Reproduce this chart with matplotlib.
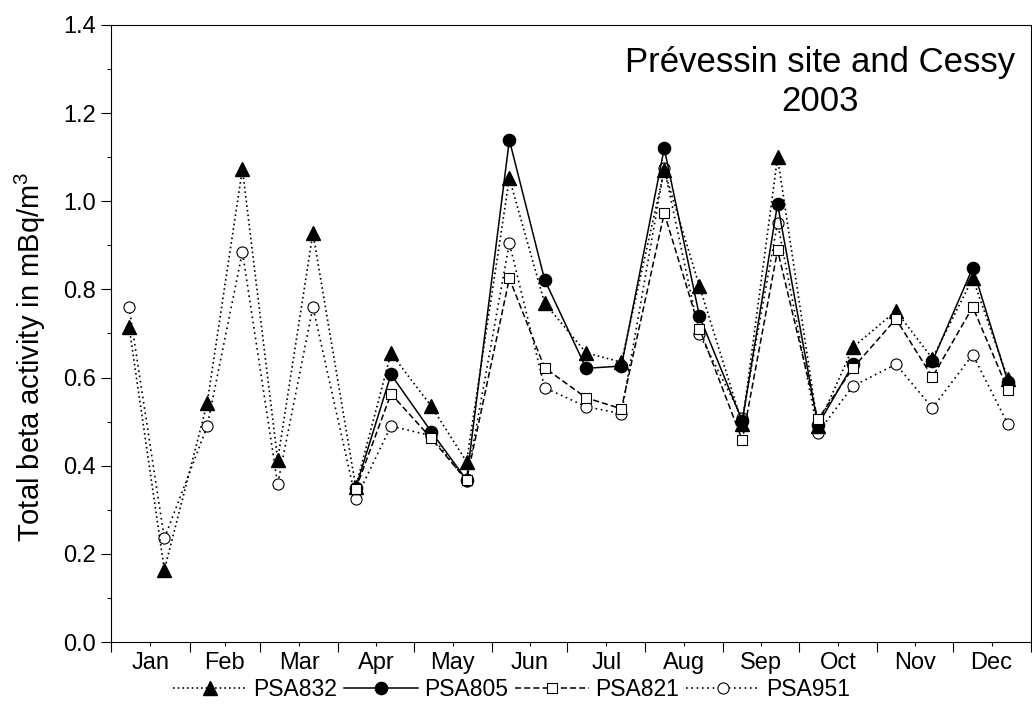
import numpy as np
import matplotlib
matplotlib.use("Agg")
import matplotlib.pyplot as plt

plt.rcParams['font.family'] = ['Liberation Sans', 'DejaVu Sans']
plt.rcParams['mathtext.fontset'] = 'custom'
plt.rcParams['mathtext.rm'] = 'Liberation Sans'
plt.rcParams['mathtext.it'] = 'Liberation Sans:italic'

nan = np.nan

# sampling dates, day of year (two filters per month)
days = [7, 21, 38, 52, 66, 80, 97, 111, 127, 141, 158, 172,
        188.5, 202.5, 219.5, 233.5, 250.5, 264.5, 280.5, 294.5, 311.5, 326, 342, 356]

psa832 = [0.715, 0.164, 0.542, 1.073, 0.413, 0.928, 0.352, 0.655, 0.535, 0.409, 1.052, 0.769,
          0.656, 0.635, 1.070, 0.807, 0.495, 1.100, 0.490, 0.669, 0.751, 0.643, 0.825, 0.597]
psa805 = [nan, nan, nan, nan, nan, nan, 0.350, 0.607, 0.477, 0.368, 1.139, 0.822,
          0.621, 0.626, 1.120, 0.739, 0.501, 0.994, 0.492, 0.630, nan, 0.637, 0.849, 0.590]
psa821 = [nan, nan, nan, nan, nan, nan, 0.347, 0.563, 0.462, 0.367, 0.825, 0.622,
          0.554, 0.529, 0.973, 0.711, 0.458, 0.889, 0.505, 0.622, 0.733, 0.601, 0.760, 0.572]
psa951 = [0.760, 0.235, 0.489, 0.885, 0.358, 0.760, 0.324, 0.490, 0.468, 0.365, 0.905, 0.577,
          0.534, 0.518, 1.075, 0.698, 0.508, 0.951, 0.475, 0.581, 0.630, 0.531, 0.652, 0.494]

months = ['Jan', 'Feb', 'Mar', 'Apr', 'May', 'Jun', 'Jul', 'Aug', 'Sep', 'Oct', 'Nov', 'Dec']
month_len = [31, 28, 31, 30, 31, 30, 31, 31, 30, 31, 30, 31]

bounds = np.concatenate([[0], np.cumsum(month_len)])
mids = (bounds[:-1] + bounds[1:]) / 2.0

fig = plt.figure(figsize=(10.32, 7.11), dpi=100)
ax = fig.add_axes([0.108, 0.097, 0.8907, 0.868])

ax.plot(days, psa951, color='black', linestyle=(0, (1, 2.2)), linewidth=1.2,
        marker='o', markersize=8, markerfacecolor='white', markeredgecolor='black',
        markeredgewidth=0.8, label='PSA951', zorder=2)
ax.plot(days, psa832, color='black', linestyle=(0, (1, 1.8)), linewidth=1.2,
        marker='^', markersize=10, markerfacecolor='black', markeredgecolor='black',
        label='PSA832', zorder=3)
ax.plot(days, psa805, color='black', linestyle='-', linewidth=1.1,
        marker='o', markersize=8.8, markerfacecolor='black', markeredgecolor='black',
        label='PSA805', zorder=4)
ax.plot(days, psa821, color='black', linestyle=(0, (4, 2)), linewidth=1.1,
        marker='s', markersize=7.6, markerfacecolor='white', markeredgecolor='black',
        markeredgewidth=0.8, label='PSA821', zorder=5)

ax.set_xlim(0, 365)
ax.set_ylim(0, 1.4)

ax.set_xticks(bounds)
ax.set_xticklabels([])
ax.set_xticks(mids, minor=True)
ax.set_xticklabels(months, minor=True)
ax.tick_params(axis='x', which='major', direction='out', length=7, width=0.8)
ax.tick_params(axis='x', which='minor', direction='out', length=3, width=0.8,
               labelsize=17, pad=4)

ax.set_yticks(np.arange(0, 1.41, 0.2))
ax.set_yticklabels(['%.1f' % v for v in np.arange(0, 1.41, 0.2)])
ax.set_yticks(np.arange(0.1, 1.4, 0.2), minor=True)
ax.tick_params(axis='y', which='major', direction='out', length=7, width=0.8,
               labelsize=17, pad=4)
ax.tick_params(axis='y', which='minor', direction='out', length=3, width=0.8)

for sp in ax.spines.values():
    sp.set_linewidth(0.8)

fig.text(0.029, 0.498, 'Total beta activity in mBq/m$^{3}$', rotation=90,
         ha='center', va='center', fontsize=21)

fig.text(0.795, 0.8987, 'Prévessin site and Cessy', ha='center', va='baseline', fontsize=25)
fig.text(0.795, 0.8439, '2003', ha='center', va='baseline', fontsize=25)

h, l = ax.get_legend_handles_labels()
order = [1, 2, 3, 0]
fig.legend([h[i] for i in order], [l[i] for i in order], loc='center',
           bbox_to_anchor=(0.496, 0.03), ncol=4, frameon=False, fontsize=16.5,
           numpoints=1, handlelength=3.2, handletextpad=0.3, columnspacing=0.3,
           borderaxespad=0)

fig.savefig('out.png', dpi=100)
